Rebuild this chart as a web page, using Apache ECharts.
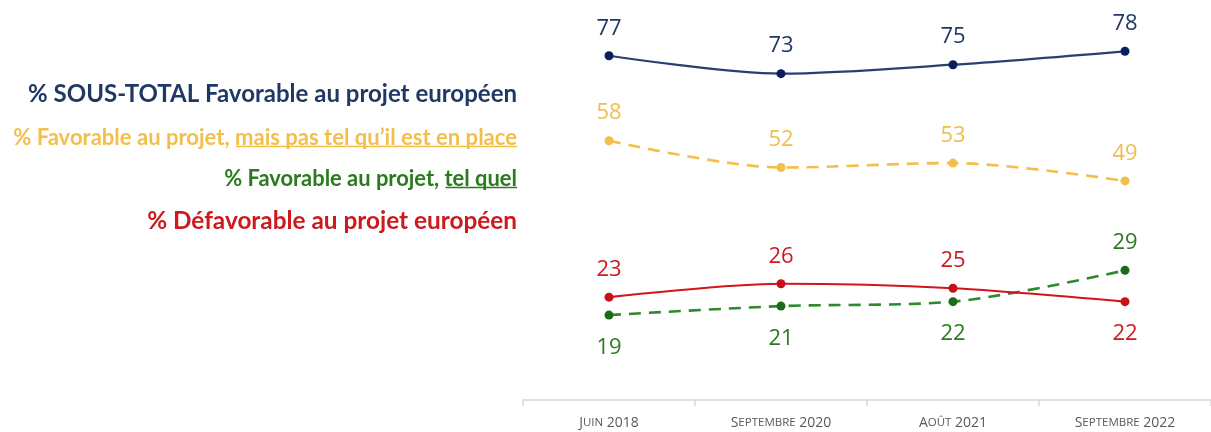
<!DOCTYPE html>
<html>
<head>
<meta charset="utf-8">
<script src="https://cdn.jsdelivr.net/npm/echarts@6/dist/echarts.min.js"></script>
<style>
  html, body { margin: 0; padding: 0; background: #ffffff; }
  #chart { width: 1211px; height: 432px; }
</style>
</head>
<body>
<div id="chart"></div>
<script>
// Survey waves (x axis)
const waves = ['Juin 2018', 'Septembre 2020', 'Août 2021', 'Septembre 2022'];

// Shares in % for each wave
const sousTotalFavorable = [77, 73, 75, 78];
const favorableMaisPas   = [58, 52, 53, 49];
const favorableTelQuel   = [19, 21, 22, 29];
const defavorable        = [23, 26, 25, 22];

// Where each value label sits relative to its point
const posSousTotal  = ['top', 'top', 'top', 'top'];
const posMaisPas    = ['top', 'top', 'top', 'top'];
const posTelQuel    = ['bottom', 'bottom', 'bottom', 'top'];
const posDefavor    = ['top', 'top', 'top', 'bottom'];

// Legend rows drawn on the left; underlined segments flagged
const legendRows = [
  { color: '#1f3864', parts: [{ t: '% SOUS-TOTAL Favorable au projet européen' }] },
  { color: '#f3bf4a', parts: [{ t: '% Favorable au projet, ' }, { t: 'mais pas tel qu\u2019il est en place', u: true }] },
  { color: '#2b7a1f', parts: [{ t: '% Favorable au projet, ' }, { t: 'tel quel', u: true }] },
  { color: '#cc1a1f', parts: [{ t: '% Défavorable au projet européen' }] }
];

// Legend layout: right edge, row centres and row widths in px
const LEGEND_RIGHT = 517;
const LEGEND_ROW_Y = [94.5, 137.5, 178.5, 221.5];
const LEGEND_ROW_W = [489, 504, 293, 370];
const LEGEND_FAMILY = 'Lato';
const LABEL_FONT = 'Open Sans';

const C = {
  navyLine: '#2b3f6f', navyDot: '#0b1f5c', navyText: '#1f3864',
  gold: '#f3bf4a', goldText: '#f0bd4c',
  green: '#2b8a2b', greenDot: '#1a6b1a', greenText: '#2b7a1f',
  red: '#d4141c', redDot: '#c8101a', redText: '#cc1a1f'
};

function pointData(values, positions, dotColor) {
  return values.map((v, i) => ({
    value: v,
    itemStyle: { color: dotColor },
    label: { position: positions[i], distance: positions[i] === 'bottom' ? 15 : 10 }
  }));
}

function lineSeries(name, values, positions, lineColor, dotColor, textColor, dashed) {
  return {
    name: name,
    type: 'line',
    data: pointData(values, positions, dotColor),
    smooth: 0.3,
    symbol: 'circle',
    symbolSize: 9,
    lineStyle: { color: lineColor, width: dashed ? 2.6 : 2.2, type: dashed ? [12, 8] : 'solid' },
    itemStyle: { color: dotColor },
    label: {
      show: true,
      color: textColor,
      fontFamily: LABEL_FONT,
      fontSize: 22,
      lineHeight: 26
    },
    emphasis: { disabled: true },
    z: 3
  };
}

// Build the left-hand legend; each row's font size is fitted to its width
const measureCtx = document.createElement('canvas').getContext('2d');
const legendGraphics = [];
legendRows.forEach((row, r) => {
  const base = 20;
  measureCtx.font = 'bold ' + base + 'px ' + LEGEND_FAMILY;
  const natural = row.parts.reduce((s, p) => s + measureCtx.measureText(p.t).width, 0);
  const size = base * LEGEND_ROW_W[r] / natural;
  const font = 'bold ' + size.toFixed(2) + 'px ' + LEGEND_FAMILY;
  measureCtx.font = font;
  const y = LEGEND_ROW_Y[r];
  let x = LEGEND_RIGHT;
  for (let p = row.parts.length - 1; p >= 0; p--) {
    const part = row.parts[p];
    const w = measureCtx.measureText(part.t).width;
    x -= w;
    legendGraphics.push({
      type: 'text',
      x: x, y: y,
      style: { text: part.t, font: font, fill: row.color, verticalAlign: 'middle', align: 'left' },
      silent: true
    });
    if (part.u) {
      legendGraphics.push({
        type: 'line',
        shape: { x1: x + 1, y1: y + 9, x2: x + w, y2: y + 9 },
        style: { stroke: row.color, lineWidth: 1.6 },
        silent: true
      });
    }
  }
});

// Small-caps style axis labels: first letter larger, rest upper-cased and smaller
function smallCaps(s) {
  return s.split(' ').map(w => {
    if (/^\d/.test(w)) return '{n|' + w + '}';
    return '{b|' + w.charAt(0).toUpperCase() + '}{s|' + w.slice(1).toUpperCase() + '}';
  }).join('{n| }');
}

const chart = echarts.init(document.getElementById('chart'), null, { renderer: 'canvas' });
chart.setOption({
  animation: false,
  backgroundColor: '#ffffff',
  grid: { left: 523, right: -8, top: 20, bottom: 32, containLabel: false },
  xAxis: {
    type: 'category',
    data: waves,
    boundaryGap: true,
    axisLine: { show: true, lineStyle: { color: '#d9d9d9', width: 1.5 } },
    axisTick: { show: true, interval: 0, length: 6, lineStyle: { color: '#d9d9d9', width: 1.5 } },
    axisLabel: {
      interval: 0,
      margin: 16,
      color: '#595959',
      formatter: v => smallCaps(v),
      rich: {
        b: { fontFamily: 'Open Sans', fontSize: 14, color: '#595959' },
        s: { fontFamily: 'Open Sans', fontSize: 11.5, color: '#595959' },
        n: { fontFamily: 'Open Sans', fontSize: 14, color: '#595959' }
      }
    }
  },
  yAxis: {
    type: 'value',
    min: 0,
    max: 85,
    show: false,
    splitLine: { show: false }
  },
  series: [
    lineSeries('% SOUS-TOTAL Favorable au projet européen', sousTotalFavorable, posSousTotal, C.navyLine, C.navyDot, C.navyText, false),
    lineSeries('% Favorable au projet, mais pas tel qu\u2019il est en place', favorableMaisPas, posMaisPas, C.gold, C.gold, C.goldText, true),
    lineSeries('% Favorable au projet, tel quel', favorableTelQuel, posTelQuel, C.green, C.greenDot, C.greenText, true),
    lineSeries('% Défavorable au projet européen', defavorable, posDefavor, C.red, C.redDot, C.redText, false)
  ],
  graphic: legendGraphics
});
</script>
</body>
</html>
